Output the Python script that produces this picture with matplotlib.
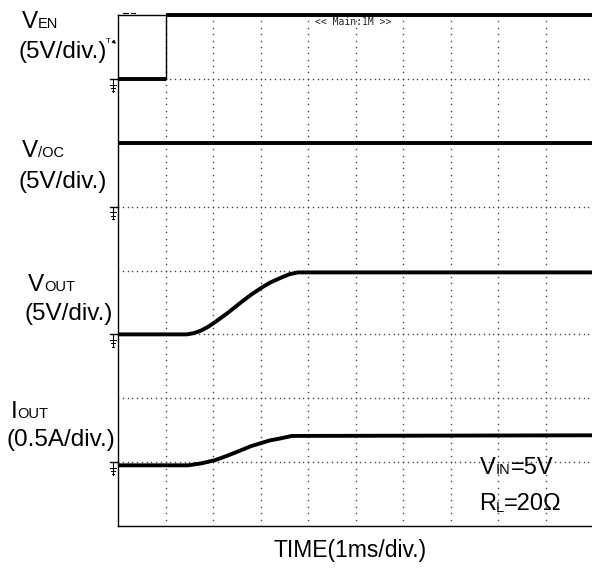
import numpy as np
import matplotlib
matplotlib.use("Agg")
import matplotlib.pyplot as plt

plt.rcParams['font.family'] = ['Liberation Sans', 'DejaVu Sans']

W, H = 592, 570

# traces, x in ms (1 div), y in screen divisions
en_t = [0, 1, 1, 10]
en_v = [7.0, 7.0, 8.0, 8.0]

oc_t = [0, 10]
oc_v = [6.0, 6.0]

out_t = [0, 1.45, 1.6, 1.75, 1.9, 2.04, 2.3, 2.57, 2.8, 3.02, 3.2, 3.41, 3.6, 3.79, 10]
out_v = [3.0, 3.0, 3.02, 3.06, 3.12, 3.19, 3.33, 3.49, 3.62, 3.73, 3.81, 3.88, 3.94, 3.97, 3.97]

iout_t = [0, 1.48, 1.75, 2.04, 2.3, 2.57, 2.8, 3.02, 3.2, 3.41, 3.66, 10]
iout_v = [0.95, 0.95, 0.98, 1.03, 1.10, 1.18, 1.25, 1.30, 1.34, 1.37, 1.41, 1.42]

ground_levels = [7, 5, 3, 1]

fig = plt.figure(figsize=(W / 100, H / 100), dpi=100)
ax = fig.add_axes([118 / W, 44 / H, 475 / W, 511 / H])
ax.set_xlim(0, 10)
ax.set_ylim(0, 8)
ax.set_xticks([])
ax.set_yticks([])
for s in ['left', 'bottom', 'top']:
    ax.spines[s].set_linewidth(1.0)
ax.spines['right'].set_visible(False)

# graticule dots
ys = np.arange(0, 8.001, 0.1)
xs = np.arange(0, 10.001, 0.1)
for k in range(1, 10):
    ax.plot(np.full_like(ys, k), ys, ls='none', marker='s', ms=1.0,
            mec='none', mfc='#444444')
for j in range(1, 8):
    ax.plot(xs, np.full_like(xs, j), ls='none', marker='s', ms=1.0,
            mec='none', mfc='#444444')

lw = 2.8
# V_EN: thin edge, thick levels
ax.plot(en_t, en_v, color='black', lw=1.0, clip_on=False)
ax.plot(en_t[:2], en_v[:2], color='black', lw=lw, solid_capstyle='butt')
ax.plot(en_t[2:], en_v[2:], color='black', lw=lw, clip_on=False, solid_capstyle='butt')
ax.plot(oc_t, oc_v, color='black', lw=lw)
ax.plot(out_t, out_v, color='black', lw=lw, solid_joinstyle='round')
ax.plot(iout_t, iout_v, color='black', lw=lw, solid_joinstyle='round')

# ground markers on the left edge
for g in ground_levels:
    ax.plot([-0.16, 0], [g, g], color='black', lw=1.0, clip_on=False)
    ax.plot([-0.1, -0.1], [g, g - 0.2], color='black', lw=0.8, clip_on=False)
    for dy, hw in [(0.09, 0.06), (0.14, 0.04), (0.19, 0.02)]:
        ax.plot([-0.1 - hw, -0.1 + hw], [g - dy, g - dy], color='black',
                lw=0.7, clip_on=False)

# trigger marker
ax.text(-0.2, 7.58, 'T', fontsize=5.5, ha='center', va='center')
ax.annotate('', xy=(0, 7.52), xytext=(-0.12, 7.6),
            arrowprops=dict(arrowstyle='-|>', lw=0.7, color='black',
                            mutation_scale=5), annotation_clip=False)

# top small marks
ax.plot([0.1, 0.22], [8.03, 8.03], color='black', lw=0.8, clip_on=False)
ax.plot([0.28, 0.36], [8.03, 8.03], color='black', lw=0.8, clip_on=False)
ax.text(4.95, 7.89, '<< Main:1M >>', fontsize=7, family='DejaVu Sans Mono',
        ha='center', va='center', color='#222222')

r = fig.canvas.get_renderer()


def put(x, y, s, size=17.5):
    return fig.text(x / W, 1 - y / H, s, fontsize=size, va='baseline')


def label(x, y, main, sub, size=17.5, subsize=10.5, tail=None, sub_dy=0):
    t = put(x, y, main, size)
    bb = t.get_window_extent(renderer=r)
    s = fig.text(bb.x1 / W, 1 - (y + sub_dy) / H, sub, fontsize=subsize,
                 va='baseline')
    if tail:
        bb2 = s.get_window_extent(renderer=r)
        fig.text(bb2.x1 / W, 1 - y / H, tail, fontsize=size, va='baseline')


label(22, 28, 'V', 'EN')
put(18, 58, '(5V/div.)')
label(22, 157, 'V', '/OC')
put(18, 188, '(5V/div.)')
label(28, 291, 'V', 'OUT')
put(24, 320, '(5V/div.)')
label(11, 418, 'I', 'OUT')
put(6, 446, '(0.5A/div.)')
put(273, 557, 'TIME(1ms/div.)', 16.5)

label(480, 474, 'V', 'IN', tail='=5V', size=17)
label(479, 510, 'R', 'L', tail='=20\u03a9', size=17, sub_dy=2)

fig.savefig('out.png', dpi=100)
